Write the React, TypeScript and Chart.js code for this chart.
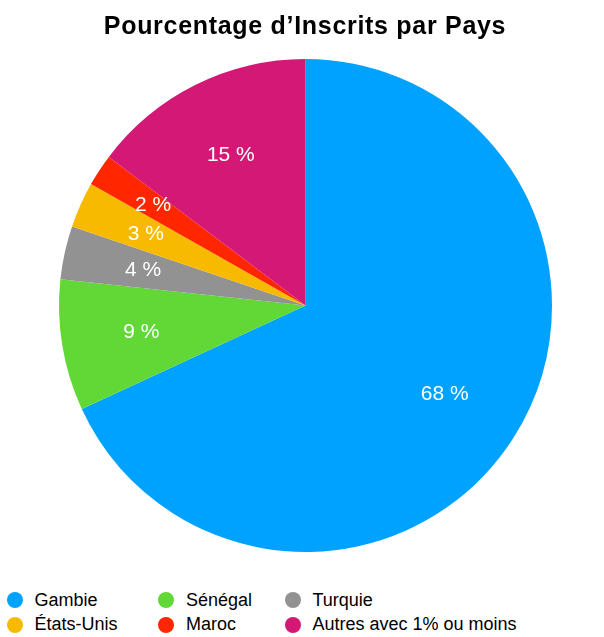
import React, { useEffect, useRef } from "react";
import { Chart, registerables } from "chart.js";

Chart.register(...registerables);

const TITLE = "Pourcentage d’Inscrits par Pays";
const countries = ["Gambie", "Sénégal", "Turquie", "États-Unis", "Maroc", "Autres avec 1% ou moins"];
const shares = [68.1, 8.6, 3.5, 3.0, 2.1, 14.7];
const colors = ["#00A2FF", "#61D836", "#929292", "#F8BA00", "#FF2600", "#D31876"];
// legend layout order (3 columns x 2 rows)
const legendOrder = [0, 1, 2, 3, 4, 5];

const FONT = "'Liberation Sans', Arial, Helvetica, sans-serif";
const labelRadius = [0.67, 0.675, 0.675, 0.71, 0.74, 0.68];

const sliceLabels = {
  id: "sliceLabels",
  afterDatasetsDraw(chart: any) {
    const ctx = chart.ctx;
    const meta = chart.getDatasetMeta(0);
    const data = chart.data.datasets[0].data as number[];
    ctx.save();
    ctx.fillStyle = "#ffffff";
    ctx.font = `21px ${FONT}`;
    ctx.textAlign = "center";
    ctx.textBaseline = "middle";
    meta.data.forEach((arc: any, i: number) => {
      const p = arc.getProps(["x", "y", "startAngle", "endAngle", "outerRadius"], true);
      const mid = (p.startAngle + p.endAngle) / 2;
      const r = p.outerRadius * labelRadius[i];
      ctx.fillText(`${Math.round(data[i])} %`, p.x + Math.cos(mid) * r, p.y + Math.sin(mid) * r);
    });
    ctx.restore();
  },
};

const titlePlugin = {
  id: "wideTitle",
  afterDraw(chart: any) {
    const ctx = chart.ctx;
    ctx.save();
    ctx.fillStyle = "#000000";
    ctx.font = `bold 25px ${FONT}`;
    (ctx as any).letterSpacing = "0.7px";
    ctx.textAlign = "center";
    ctx.textBaseline = "alphabetic";
    ctx.fillText(TITLE, 305, 33.5);
    ctx.restore();
  },
};

export default function App() {
  const ref = useRef<HTMLCanvasElement | null>(null);
  useEffect(() => {
    if (!ref.current) return;
    const chart = new Chart(ref.current, {
      type: "pie",
      data: {
        labels: countries,
        datasets: [
          {
            data: shares,
            backgroundColor: colors,
            borderWidth: 0,
          },
        ],
      },
      options: {
        animation: false,
        responsive: false,
        layout: { padding: { left: 59, right: 52, top: 59, bottom: 28 } },
        plugins: {
          legend: { display: false },
          tooltip: { enabled: false },
          title: { display: false },
        },
      },
      plugins: [sliceLabels, titlePlugin],
    });
    return () => chart.destroy();
  }, []);

  const cols = [14.5, 166, 292.5];
  const rows = [600, 624.5];
  return (
    <div style={{ position: "absolute", left: 0, top: 0, width: 604, height: 637, background: "#fff", fontFamily: FONT }}>
      <canvas ref={ref} width={604} height={580} style={{ display: "block", width: 604, height: 580 }} />
      {legendOrder.map((idx, k) => {
        const cx = cols[k % 3];
        const cy = rows[Math.floor(k / 3)];
        return (
          <div
            key={idx}
            style={{
              position: "absolute",
              left: cx - 8,
              top: cy - 12,
              height: 24,
              display: "flex",
              alignItems: "center",
              whiteSpace: "nowrap",
              fontSize: 18,
              color: "#000",
            }}
          >
            <span
              style={{
                display: "inline-block",
                width: 16,
                height: 16,
                borderRadius: "50%",
                background: colors[idx],
                marginRight: 12,
              }}
            />
            <span>{countries[idx]}</span>
          </div>
        );
      })}
    </div>
  );
}
